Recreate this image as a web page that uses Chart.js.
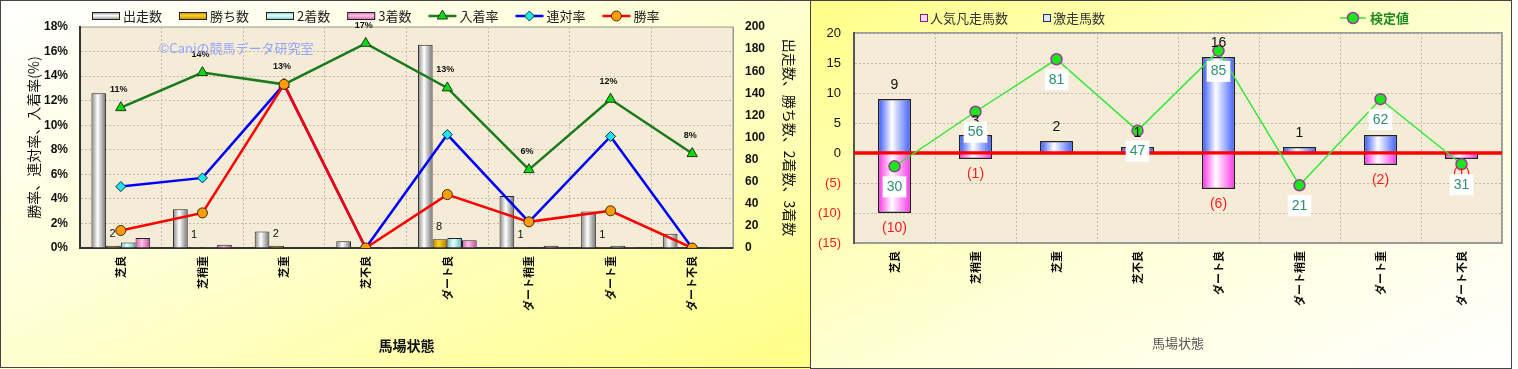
<!DOCTYPE html>
<html>
<head>
<meta charset="utf-8">
<title>馬場状態別成績</title>
<script src="https://cdn.jsdelivr.net/npm/chart.js@4.4.1/dist/chart.umd.min.js"></script>
<style>
  body { margin: 0; background: #fff; width: 1518px; height: 369px; overflow: hidden; }
  .bg { position: absolute; top: 0; height: 369px; }
  #bgLeft { left: 0; width: 811px; background: linear-gradient(to bottom right, #ffffff 0%, #ffffd6 45%, #ffff86 100%); }
  #bgRight { left: 811px; width: 701px; background: linear-gradient(to bottom right, #ffff88 0%, #ffffd8 55%, #ffffff 100%); }
  canvas { position: absolute; top: 0; }
  #rateChart { left: 0; }
  #upsetChart { left: 811px; }
  .frame { position: absolute; top: 0; box-sizing: border-box; border: 1px solid #444; pointer-events: none; }
</style>
</head>
<body>
<div class="bg" id="bgLeft"></div>
<div class="bg" id="bgRight"></div>
<canvas id="rateChart" width="810" height="369"></canvas>
<canvas id="upsetChart" width="700" height="369"></canvas>
<div class="frame" style="left:0;width:811px;height:368px"></div>
<div class="frame" style="left:810px;width:702px;height:369px"></div>
<script>
// 馬場状態
const conditions = ["芝良", "芝稍重", "芝重", "芝不良", "ダート良", "ダート稍重", "ダート重", "ダート不良"];

// left chart: counts (right axis) and rates in % (left axis)
const runners = [140, 35, 15, 6, 184, 47, 33, 13];
const wins = [2, 1, 2, 0, 8, 1, 1, 0];
const seconds = [5, 1, 0, 0, 9, 0, 2, 0];
const thirds = [9, 3, 0, 1, 7, 2, 1, 1];
const placeRate = [11.43, 14.29, 13.33, 16.67, 13.04, 6.38, 12.12, 7.69];
const top2Rate = [5.00, 5.71, 13.33, 0, 9.24, 2.13, 9.09, 0];
const winRate = [1.43, 2.86, 13.33, 0, 4.35, 2.13, 3.03, 0];
const rateTicks = [0, 18, 2];      // min, max, step (%)
const countTicks = [0, 200, 20];

// right chart
const upsetCounts = [9, 3, 2, 1, 16, 1, 3, 0];          // 激走馬数
const flopCounts = [-10, -1, 0, 0, -6, 0, -2, -1];      // 人気凡走馬数
const testValues = [30, 56, 81, 47, 85, 21, 62, 31];    // 検定値
const diffTicks = [-15, 20, 5];

const NUM = '"Liberation Sans", "Noto Sans CJK JP", sans-serif';
const JP = '"Noto Sans CJK JP", "Liberation Sans", sans-serif';

// horizontal "cylinder" gradient for bars
function cylinder(edge, mid, edge2) {
    return function(ctx) {
        const el = ctx.element;
        if (!el || !isFinite(el.x) || !el.width) return mid;
        const g = ctx.chart.ctx.createLinearGradient(el.x - el.width / 2, 0, el.x + el.width / 2, 0);
        g.addColorStop(0, edge);
        g.addColorStop(0.42, mid);
        g.addColorStop(1, edge2 || edge);
        return g;
    };
}

// plot area background + frame
const plotFill = {
    id: 'plotFill',
    beforeDraw(chart, args, opts) {
        const c = chart.ctx, a = chart.chartArea;
        c.save();
        c.fillStyle = opts.color;
        c.fillRect(a.left, a.top, a.width, a.height);
        c.strokeStyle = opts.frame;
        c.lineWidth = opts.frameWidth;
        c.strokeRect(a.left, a.top, a.width, a.height);
        c.restore();
    }
};

function marker(c, ds, x, y) {
    c.fillStyle = ds.pointBackgroundColor;
    c.strokeStyle = ds.pointBorderColor;
    c.lineWidth = ds.pointBorderWidth;
    if (Chart.helpers && Chart.helpers.drawPoint) {
        Chart.helpers.drawPoint(c, {pointStyle: ds.pointStyle, radius: ds.pointRadius, borderWidth: ds.pointBorderWidth, rotation: 0}, x, y);
    } else {
        c.beginPath(); c.arc(x, y, ds.pointRadius, 0, Math.PI * 2); c.fill(); c.stroke();
    }
}

/* ---------- left chart ---------- */
const rateLegend = {
    id: 'rateLegend',
    afterDraw(chart) {
        const c = chart.ctx;
        let x = 92;
        const y = 16;
        c.save();
        c.font = '13px ' + JP;
        c.textBaseline = 'middle';
        c.textAlign = 'left';
        chart.data.datasets.forEach(ds => {
            if (ds.type === 'line') {
                c.strokeStyle = ds.borderColor;
                c.lineWidth = ds.borderWidth;
                c.beginPath(); c.moveTo(x, y); c.lineTo(x + 28, y); c.stroke();
                marker(c, ds, x + 14, y);
            } else {
                const g = c.createLinearGradient(0, y - 4, 0, y + 4);
                g.addColorStop(0, ds.swatch[0]);
                g.addColorStop(0.45, ds.swatch[1]);
                g.addColorStop(1, ds.swatch[0]);
                c.fillStyle = g;
                c.fillRect(x, y - 3.5, 28, 7);
                c.strokeStyle = '#222';
                c.lineWidth = 1;
                c.strokeRect(x + 0.5, y - 3.5, 27, 7);
            }
            x += 31;
            c.fillStyle = '#222';
            c.fillText(ds.label, x, y);
            x += c.measureText(ds.label).width + 17;
        });
        c.restore();
    }
};

const rateLabels = {
    id: 'rateLabels',
    afterDatasetsDraw(chart) {
        const c = chart.ctx;
        c.save();
        c.textAlign = 'center';
        c.textBaseline = 'middle';
        c.fillStyle = '#111';
        c.font = '11px ' + NUM;
        chart.getDatasetMeta(1).data.forEach((el, i) => {
            if (wins[i] > 0) c.fillText(wins[i], el.x - 1, el.y - 12);
        });
        c.font = 'bold 9px ' + NUM;
        chart.getDatasetMeta(4).data.forEach((el, i) => {
            c.fillText(Math.round(placeRate[i]) + '%', el.x - 2, el.y - 18);
        });
        c.font = '13px ' + JP;
        c.fillStyle = '#94a4ff';
        c.fillText('©Caniの競馬データ研究室', 236, 48);
        c.restore();
    }
};

const dotted = {color: '#c2baa8', drawTicks: false};

const rateChart = new Chart(document.getElementById('rateChart'), {
    type: 'bar',
    data: {
        labels: conditions,
        datasets: [
            {label: '出走数', data: runners, yAxisID: 'y1', order: 2, backgroundColor: cylinder('#858585', '#ffffff', '#707070'), swatch: ['#858585', '#ffffff']},
            {label: '勝ち数', data: wins, yAxisID: 'y1', order: 2, backgroundColor: cylinder('#b88400', '#ffd21a', '#a87800'), swatch: ['#b88400', '#ffd21a']},
            {label: '2着数', data: seconds, yAxisID: 'y1', order: 2, backgroundColor: cylinder('#6cc4c8', '#e6ffff', '#5ab4b8'), swatch: ['#6cc4c8', '#e6ffff']},
            {label: '3着数', data: thirds, yAxisID: 'y1', order: 2, backgroundColor: cylinder('#d25aa8', '#ffc4e8', '#c04c98'), swatch: ['#d25aa8', '#ffc4e8']},
            {type: 'line', label: '入着率', data: placeRate, yAxisID: 'y', order: 1.2, borderColor: '#1c7a1c', borderWidth: 2.5,
             pointStyle: 'triangle', pointRadius: 6, pointBackgroundColor: '#10d810', pointBorderColor: '#1a3a1a', pointBorderWidth: 1},
            {type: 'line', label: '連対率', data: top2Rate, yAxisID: 'y', order: 1.1, borderColor: '#0000ff', borderWidth: 2.5,
             pointStyle: 'rectRot', pointRadius: 5, pointBackgroundColor: '#1ee6f0', pointBorderColor: '#1a2a3a', pointBorderWidth: 1},
            {type: 'line', label: '勝率', data: winRate, yAxisID: 'y', order: 1, borderColor: '#ff0000', borderWidth: 2.5,
             pointStyle: 'circle', pointRadius: 5, pointBackgroundColor: '#ff9c00', pointBorderColor: '#3a2a1a', pointBorderWidth: 1}
        ]
    },
    options: {
        responsive: false,
        animation: false,
        layout: {padding: {top: 27, left: 0, right: 0, bottom: 0}},
        datasets: {bar: {categoryPercentage: 0.72, barPercentage: 1, borderColor: '#222', borderWidth: 1}},
        plugins: {
            legend: {display: false},
            tooltip: {enabled: false},
            plotFill: {color: '#f5ecd8', frame: '#9a9a9a', frameWidth: 1}
        },
        scales: {
            x: {
                grid: dotted,
                border: {color: '#333', width: 2, dash: [2, 2]},
                ticks: {autoSkip: false, minRotation: 90, maxRotation: 90, padding: 8, color: '#111', font: {family: JP, size: 11, weight: 'bold'}},
                title: {display: true, text: '馬場状態', color: '#111', font: {family: JP, size: 14, weight: 'bold'}, padding: {top: 0, bottom: 15}},
                afterFit: s => { s.height = 121; }
            },
            y: {
                position: 'left',
                min: rateTicks[0], max: rateTicks[1],
                grid: dotted,
                border: {color: '#333', width: 2, dash: [2, 2]},
                ticks: {stepSize: rateTicks[2], padding: 12, color: '#111', font: {family: NUM, size: 12, weight: 'bold'}, callback: v => v + '%'},
                title: {display: true, text: '勝率、連対率、入着率(%)', color: '#111', font: {family: JP, size: 14}, padding: {top: 25, bottom: 0}},
                afterFit: s => { s.width = 80; }
            },
            y1: {
                position: 'right',
                min: countTicks[0], max: countTicks[1],
                grid: {drawOnChartArea: false, drawTicks: false},
                border: {color: '#999', width: 1},
                ticks: {stepSize: countTicks[2], padding: 12, color: '#111', font: {family: NUM, size: 12, weight: 'bold'}},
                title: {display: true, text: '出走数、勝ち数、2着数、3着数', color: '#111', font: {family: JP, size: 14}, padding: {top: 12, bottom: 0}},
                afterFit: s => { s.width = 77; }
            }
        }
    },
    plugins: [plotFill, rateLegend, rateLabels]
});
rateChart.update();

/* ---------- right chart ---------- */
const upsetLegend = {
    id: 'upsetLegend',
    afterDraw(chart) {
        const c = chart.ctx;
        const y = 18;
        c.save();
        c.font = '13px ' + JP;
        c.textBaseline = 'middle';
        c.textAlign = 'left';
        // 人気凡走馬数
        c.fillStyle = '#ffd6f6'; c.fillRect(109, y - 4, 7, 7);
        c.strokeStyle = '#802478'; c.lineWidth = 1; c.strokeRect(109.5, y - 3.5, 7, 7);
        c.fillStyle = '#333'; c.fillText(chart.data.datasets[0].label, 119, y);
        // 激走馬数
        c.fillStyle = '#dfe6ff'; c.fillRect(232, y - 4, 7, 7);
        c.strokeStyle = '#1e2a70'; c.strokeRect(232.5, y - 3.5, 7, 7);
        c.fillStyle = '#333'; c.fillText(chart.data.datasets[1].label, 242, y);
        // 検定値
        const ds = chart.data.datasets[2];
        c.strokeStyle = ds.borderColor; c.lineWidth = 1.5;
        c.beginPath(); c.moveTo(529, y); c.lineTo(555, y); c.stroke();
        marker(c, ds, 542, y);
        c.font = 'bold 13px ' + JP;
        c.fillStyle = '#1f8a1f';
        c.fillText(ds.label, 559, y);
        c.restore();
    }
};

const zeroLine = {
    id: 'zeroLine',
    afterDatasetDraw(chart, args) {
        if (args.meta.type !== 'bar') return;
        const c = chart.ctx, a = chart.chartArea;
        const y = chart.scales.y.getPixelForValue(0);
        c.save();
        c.strokeStyle = '#ff0000';
        c.lineWidth = 3;
        c.beginPath(); c.moveTo(a.left, y); c.lineTo(a.right, y); c.stroke();
        c.restore();
    }
};

const upsetLabels = {
    id: 'upsetLabels',
    afterDatasetsDraw(chart) {
        const c = chart.ctx;
        c.save();
        c.textAlign = 'center';
        c.textBaseline = 'middle';
        c.font = '14px ' + NUM;
        chart.getDatasetMeta(1).data.forEach((el, i) => {
            if (upsetCounts[i] > 0) { c.fillStyle = '#111'; c.fillText(upsetCounts[i], el.x, el.y - 14); }
        });
        chart.getDatasetMeta(0).data.forEach((el, i) => {
            if (flopCounts[i] < 0) { c.fillStyle = '#ff1a1a'; c.fillText('(' + (-flopCounts[i]) + ')', el.x, el.y + 15); }
        });
        chart.getDatasetMeta(2).data.forEach((el, i) => {
            const t = String(testValues[i]);
            const w = c.measureText(t).width + 8;
            c.fillStyle = '#ffffff';
            c.fillRect(el.x - w / 2, el.y + 10, w, 21);
            c.fillStyle = '#2f8f70';
            c.fillText(t, el.x, el.y + 20.5);
        });
        c.restore();
    }
};

const upsetChart = new Chart(document.getElementById('upsetChart'), {
    type: 'bar',
    data: {
        labels: conditions,
        datasets: [
            {label: '人気凡走馬数', data: flopCounts, order: 1, backgroundColor: cylinder('#ff28e6', '#ffffff', '#ff30ea')},
            {label: '激走馬数', data: upsetCounts, order: 1, backgroundColor: cylinder('#3050ff', '#ffffff', '#3c5cff')},
            {type: 'line', label: '検定値', data: testValues, yAxisID: 'y2', order: 0, borderColor: '#3ae63a', borderWidth: 1.5,
             pointStyle: 'circle', pointRadius: 5.5, pointBackgroundColor: '#18e818', pointBorderColor: '#9a3a9a', pointBorderWidth: 1.5}
        ]
    },
    options: {
        responsive: false,
        animation: false,
        layout: {padding: {top: 33, left: 0, right: 9, bottom: 0}},
        datasets: {bar: {categoryPercentage: 0.41, barPercentage: 1, borderColor: '#222', borderWidth: 1.5}},
        plugins: {
            legend: {display: false},
            tooltip: {enabled: false},
            plotFill: {color: '#f5ecd8', frame: '#9a9a9a', frameWidth: 2}
        },
        scales: {
            x: {
                stacked: true,
                grid: dotted,
                border: {color: '#9a9a9a', width: 2, dash: [2, 2]},
                ticks: {autoSkip: false, minRotation: 90, maxRotation: 90, padding: 8, color: '#111', font: {family: JP, size: 11, weight: 'bold'}},
                title: {display: true, text: '馬場状態', color: '#555', font: {family: JP, size: 13}, padding: {top: 0, bottom: 18}},
                afterFit: s => { s.height = 126; }
            },
            y: {
                stacked: true,
                min: diffTicks[0], max: diffTicks[1],
                grid: dotted,
                border: {color: '#555', width: 2, dash: [2, 2]},
                ticks: {
                    stepSize: diffTicks[2], padding: 13,
                    font: {family: NUM, size: 13},
                    color: c => c.tick && c.tick.value < 0 ? '#ff1a1a' : '#111',
                    callback: v => v < 0 ? '(' + (-v) + ')' : v
                },
                afterFit: s => { s.width = 43; }
            },
            y2: {display: false, min: -6.5, max: 93.5}
        }
    },
    plugins: [plotFill, zeroLine, upsetLabels, upsetLegend]
});
upsetChart.update();
</script>
</body>
</html>
